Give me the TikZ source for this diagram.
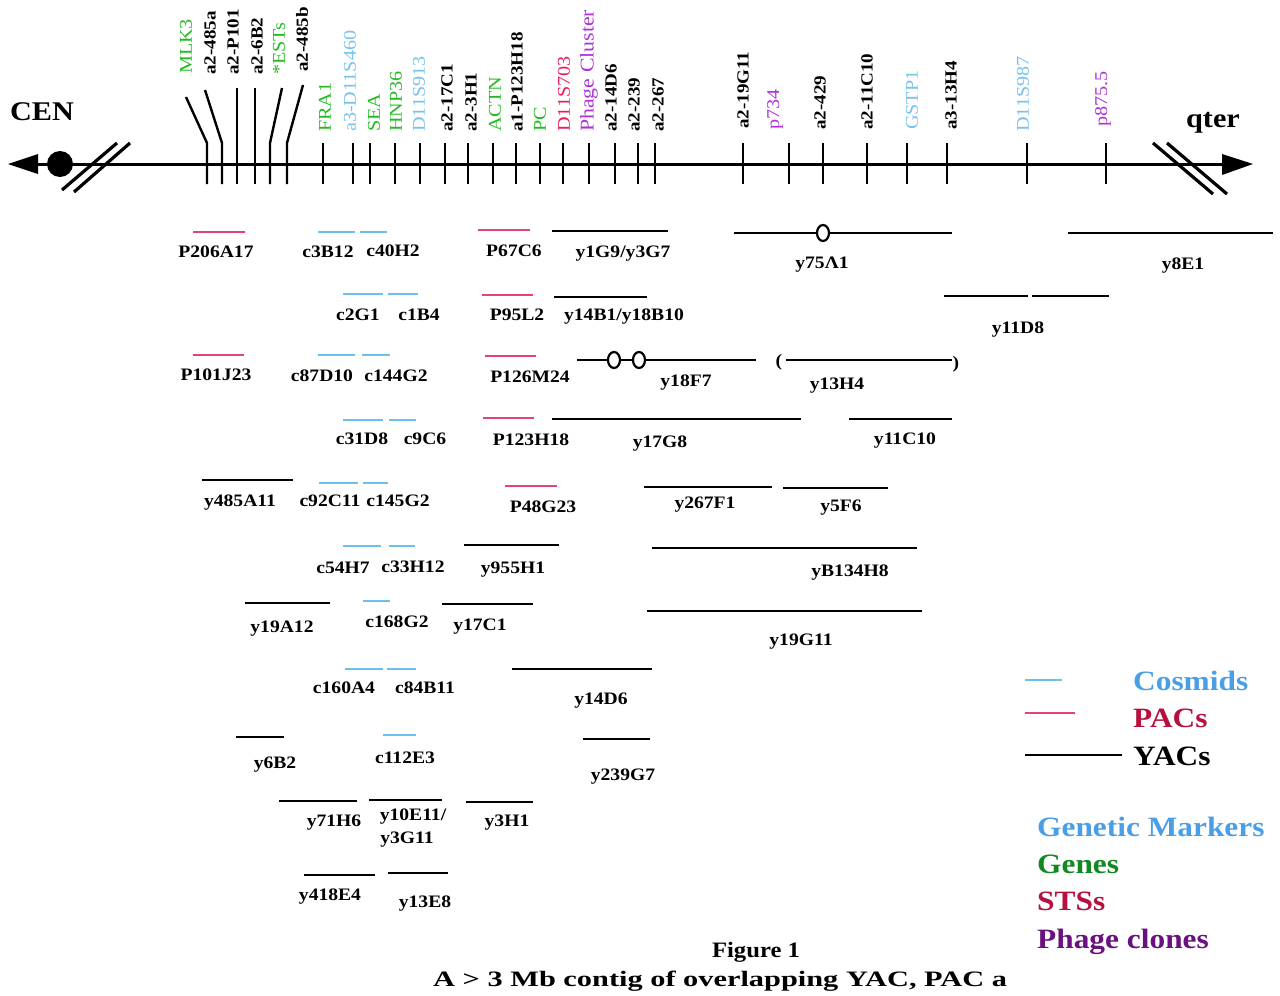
\documentclass[tikz,border=0pt]{standalone}
\usepackage{fontspec}
\setmainfont{Liberation Serif}[FakeStretch=1.12]
\newfontfamily\capfont{Liberation Serif}[FakeStretch=1.38]
\definecolor{cosblue}{HTML}{6CC0EE}
\definecolor{pacred}{HTML}{E8407A}
\definecolor{mkblue}{HTML}{78C2EE}
\definecolor{mkgreen}{HTML}{22BB22}
\definecolor{stsred}{HTML}{E8205A}
\definecolor{phage}{HTML}{B030D8}
\definecolor{legblue}{HTML}{4A9EE6}
\definecolor{leggreen}{HTML}{108A20}
\definecolor{legred}{HTML}{B8103E}
\definecolor{legpurple}{HTML}{6A1080}
\tikzset{
  yac/.style={line width=2.9pt, black},
  cos/.style={line width=2.2pt, cosblue},
  pac/.style={line width=2.6pt, pacred},
  lab/.style={font=\fontsize{17.5}{19}\selectfont\bfseries, anchor=base, inner sep=0pt},
  mk/.style={rotate=90, anchor=west, font=\fontsize{18}{19}\selectfont, inner sep=0pt},
  mkb/.style={rotate=90, anchor=west, font=\fontsize{17}{19}\selectfont\bfseries, inner sep=0pt},
  tk/.style={line width=2.4pt},
  slash/.style={line width=3.2pt},
  knob/.style={draw=black, line width=2.2pt, fill=white},
  legtext/.style={font=\fontsize{28}{30}\selectfont\bfseries, anchor=base west, inner sep=0pt}
}
\begin{document}
\begin{tikzpicture}[x=1pt,y=-1pt]
\useasboundingbox (0,0) rectangle (1280,996);
% ---------- axis ----------
\coordinate (axL) at (37,164);
\coordinate (axR) at (1224,164);
\draw[line width=3pt] (axL) -- (axR);
\fill (8,164) -- (38,154) -- (38,174) -- cycle;
\fill (1253,164) -- (1222,154) -- (1222,175) -- cycle;
\fill (60,164) circle (13);
\draw[slash] (62,190) -- (117,143);
\draw[slash] (74,192) -- (130,143);
\draw[slash] (1153,143) -- (1213,194);
\draw[slash] (1167,143) -- (1227,194);
\node[font=\fontsize{27}{29}\selectfont\bfseries, inner sep=0pt] (cen) at (42,112) {CEN};
\node[font=\fontsize{27}{29}\selectfont\bfseries, inner sep=0pt] (qter) at (1213,123) {qter};
% ---------- ticks ----------
\draw[tk] (207,184) -- (207,143) -- (186,97);
\draw[tk] (222,184) -- (222,143) -- (205,90);
\draw[tk] (237,184) -- (237,88);
\draw[tk] (255,184) -- (255,88);
\draw[tk] (270,184) -- (270,143) -- (282,88);
\draw[tk] (287,184) -- (287,143) -- (303,85);
\foreach \x in {323,353,370,395,420,445,468,493,516,540,563,589,615,638,655,743,789,823,867,907,947,1027,1106}
  \draw[tk] (\x,143) -- (\x,184);
% ---------- marker labels ----------
\node[mk, mkgreen] (m1) at (186,74) {MLK3};
\node[mkb] (m2) at (210,75) {a2-485a};
\node[mkb] (m3) at (233,75) {a2-P101};
\node[mkb] (m4) at (257,75) {a2-6B2};
\node[mk, mkgreen] (m5) at (279,75) {*ESTs};
\node[mkb] (m6) at (302,72) {a2-485b};
\node[mk, mkgreen] (m7) at (325,132) {FRA1};
\node[mk, mkblue] (m8) at (350,132) {a3-D11S460};
\node[mk, mkgreen] (m9) at (374,132) {SEA};
\node[mk, mkgreen] (m10) at (396,132) {HNP36};
\node[mk, mkblue] (m11) at (419,132) {D11S913};
\node[mkb] (m12) at (447,132) {a2-17C1};
\node[mkb] (m13) at (471,132) {a2-3H1};
\node[mk, mkgreen] (m14) at (495,132) {ACTN};
\node[mkb] (m15) at (517,132) {a1-P123H18};
\node[mk, mkgreen] (m16) at (540,132) {PC};
\node[mk, stsred] (m17) at (564,132) {D11S703};
\node[mk, phage, font=\fontsize{19.5}{21}\selectfont] (m18) at (589,132) {Phage Cluster};
\node[mkb] (m19) at (611,132) {a2-14D6};
\node[mkb] (m20) at (634,132) {a2-239};
\node[mkb] (m21) at (658,132) {a2-267};
\node[mkb] (m22) at (743,129) {a2-19G11};
\node[mk, phage] (m23) at (775,130) {p734};
\node[mkb] (m24) at (820,130) {a2-429};
\node[mkb] (m25) at (867,130) {a2-11C10};
\node[mk, mkblue] (m26) at (912,130) {GSTP1};
\node[mkb] (m27) at (951,130) {a3-13H4};
\node[mk, mkblue] (m28) at (1023,132) {D11S987};
\node[mk, phage] (m29) at (1103,127) {p875.5};
% ---------- row 1 ----------
\draw[pac] (193,232) -- (245,232);  \node[lab] (l1) at (216,257) {P206A17};
\draw[cos] (318,232) -- (355,232);  \node[lab] (l2) at (328,257) {c3B12};
\draw[cos] (360,232) -- (387,232);  \node[lab] (l3) at (393,256) {c40H2};
\draw[pac] (478,230) -- (530,230);  \node[lab] (l4) at (514,256) {P67C6};
\draw[yac] (552,231) -- (668,231);  \node[lab] (l5) at (623,257) {y1G9/y3G7};
\draw[yac] (734,233) -- (952,233);
\draw[knob] (823,233) ellipse (6 and 8);
\node[lab] (l6) at (822,268) {y75Λ1};
\draw[yac] (1068,233) -- (1273,233); \node[lab] (l7) at (1183,269) {y8E1};
% ---------- row 2 ----------
\draw[cos] (343,294) -- (383,294);  \node[lab] (l8) at (358,320) {c2G1};
\draw[cos] (388,294) -- (418,294);  \node[lab] (l9) at (419,320) {c1B4};
\draw[pac] (482,295) -- (533,295);  \node[lab] (l10) at (517,320) {P95L2};
\draw[yac] (554,297) -- (647,297);  \node[lab] (l11) at (624,320) {y14B1/y18B10};
\draw[yac] (944,296) -- (1028,296);
\draw[yac] (1032,296) -- (1109,296); \node[lab] (l12) at (1018,333) {y11D8};
% ---------- row 3 ----------
\draw[pac] (193,355) -- (244,355);  \node[lab] (l13) at (216,380) {P101J23};
\draw[cos] (318,355) -- (355,355);  \node[lab] (l14) at (322,381) {c87D10};
\draw[cos] (362,355) -- (390,355);  \node[lab] (l15) at (396,381) {c144G2};
\draw[pac] (485,356) -- (536,356);  \node[lab] (l16) at (530,382) {P126M24};
\draw[yac] (577,360) -- (756,360);
\draw[knob] (614,360) ellipse (6 and 8);
\draw[knob] (639,360) ellipse (6 and 8);
\node[lab] (l17) at (686,386) {y18F7};
\draw[yac] (786,360) -- (952,360);
\node[lab] (pl) at (779,366) {(};
\node[lab] (pr) at (956,368) {)};
\node[lab] (l18) at (837,389) {y13H4};
% ---------- row 4 ----------
\draw[cos] (343,420) -- (383,420);  \node[lab] (l19) at (362,444) {c31D8};
\draw[cos] (389,420) -- (416,420);  \node[lab] (l20) at (425,444) {c9C6};
\draw[pac] (483,418) -- (534,418);  \node[lab] (l21) at (531,445) {P123H18};
\draw[yac] (552,419) -- (801,419);  \node[lab] (l22) at (660,447) {y17G8};
\draw[yac] (849,419) -- (952,419);  \node[lab] (l23) at (905,444) {y11C10};
% ---------- row 5 ----------
\draw[yac] (202,480) -- (293,480);  \node[lab] (l24) at (240,506) {y485A11};
\draw[cos] (319,483) -- (358,483);  \node[lab] (l25) at (330,506) {c92C11};
\draw[cos] (363,483) -- (388,483);  \node[lab] (l26) at (398,506) {c145G2};
\draw[pac] (505,486) -- (557,486);  \node[lab] (l27) at (543,512) {P48G23};
\draw[yac] (644,487) -- (772,487);  \node[lab] (l28) at (705,508) {y267F1};
\draw[yac] (783,488) -- (888,488);  \node[lab] (l29) at (841,511) {y5F6};
% ---------- row 6 ----------
\draw[cos] (343,546) -- (381,546);  \node[lab] (l30) at (343,573) {c54H7};
\draw[cos] (389,546) -- (415,546);  \node[lab] (l31) at (413,572) {c33H12};
\draw[yac] (464,545) -- (559,545);  \node[lab] (l32) at (513,573) {y955H1};
\draw[yac] (652,548) -- (917,548);  \node[lab] (l33) at (850,576) {yB134H8};
% ---------- row 7 ----------
\draw[yac] (245,603) -- (330,603);  \node[lab] (l34) at (282,632) {y19A12};
\draw[cos] (363,601) -- (390,601);  \node[lab] (l35) at (397,627) {c168G2};
\draw[yac] (442,604) -- (533,604);  \node[lab] (l36) at (480,630) {y17C1};
\draw[yac] (647,611) -- (922,611);  \node[lab] (l37) at (801,645) {y19G11};
% ---------- row 8 ----------
\draw[cos] (345,669) -- (383,669);  \node[lab] (l38) at (344,693) {c160A4};
\draw[cos] (387,669) -- (416,669);  \node[lab] (l39) at (425,693) {c84B11};
\draw[yac] (512,669) -- (652,669);  \node[lab] (l40) at (601,704) {y14D6};
% ---------- row 9 ----------
\draw[yac] (236,737) -- (284,737);  \node[lab] (l41) at (275,768) {y6B2};
\draw[cos] (383,735) -- (416,735);  \node[lab] (l42) at (405,763) {c112E3};
\draw[yac] (583,739) -- (650,739);  \node[lab] (l43) at (623,780) {y239G7};
% ---------- row 10 ----------
\draw[yac] (279,801) -- (357,801);  \node[lab] (l44) at (334,826) {y71H6};
\draw[yac] (369,800) -- (442,800);
\node[lab] (l45) at (413,820) {y10E11/};
\node[lab] (l46) at (407,843) {y3G11};
\draw[yac] (466,802) -- (533,802);  \node[lab] (l47) at (507,826) {y3H1};
% ---------- row 11 ----------
\draw[yac] (304,875) -- (375,875);  \node[lab] (l48) at (330,900) {y418E4};
\draw[yac] (388,873) -- (448,873);  \node[lab] (l49) at (425,907) {y13E8};
% ---------- legend ----------
\draw[cos] (1025,680) -- (1062,680);
\node[legtext, text=legblue] (g1) at (1133,690) {Cosmids};
\draw[pac] (1025,713) -- (1075,713);
\node[legtext, text=legred] (g2) at (1133,727) {PACs};
\draw[yac] (1025,755) -- (1122,755);
\node[legtext] (g3) at (1133,765) {YACs};
\node[legtext, text=legblue] (g4) at (1037,836) {Genetic Markers};
\node[legtext, text=leggreen] (g5) at (1037,873) {Genes};
\node[legtext, text=legred] (g6) at (1037,910) {STSs};
\node[legtext, text=legpurple] (g7) at (1037,948) {Phage clones};
% ---------- caption ----------
\node[font=\fontsize{22}{24}\selectfont\bfseries, anchor=base, inner sep=0pt] (c1) at (756,957) {Figure 1};
\node[font=\capfont\fontsize{22}{24}\selectfont\bfseries, anchor=base west, inner sep=0pt] (c2) at (433,986) {A > 3 Mb contig of overlapping YAC, PAC a};
\end{tikzpicture}
\end{document}
